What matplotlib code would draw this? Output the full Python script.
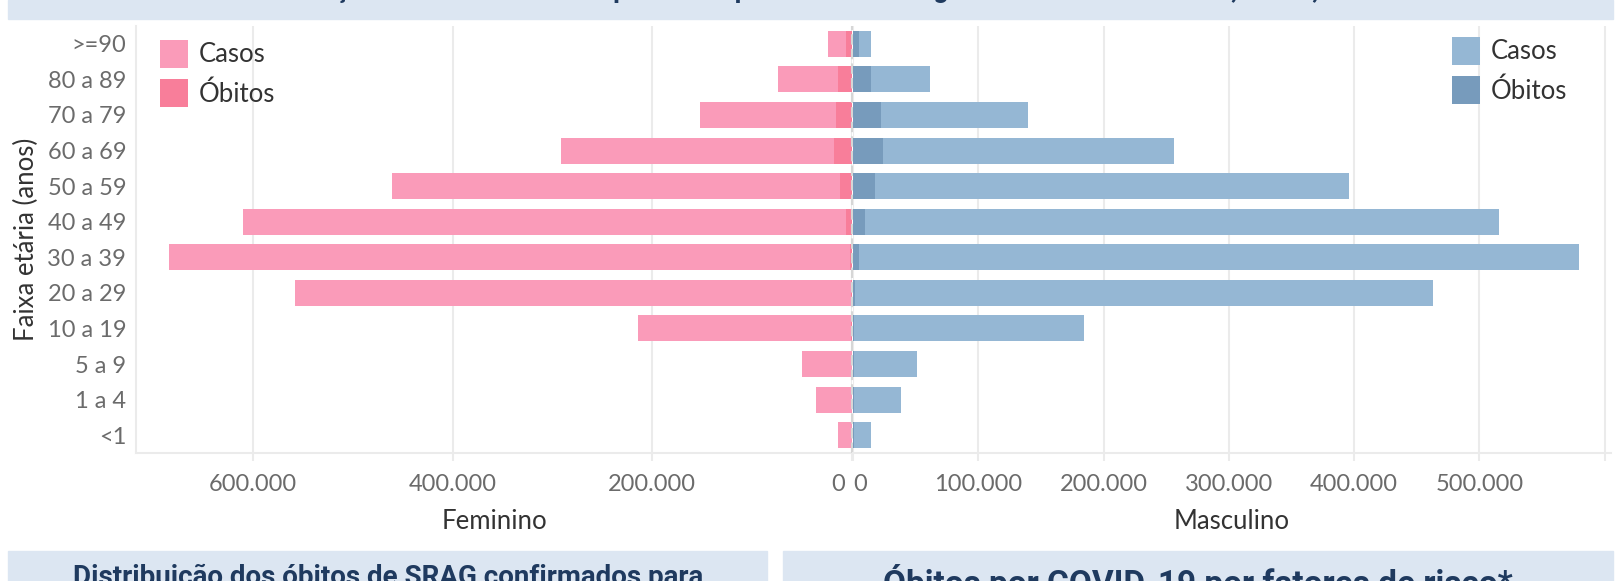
import matplotlib
matplotlib.use("Agg")
import matplotlib.pyplot as plt
from matplotlib.patches import Rectangle
from matplotlib.ticker import FuncFormatter

plt.rcParams['font.family'] = ['Lato', 'DejaVu Sans']

faixas = ['<1', '1 a 4', '5 a 9', '10 a 19', '20 a 29', '30 a 39', '40 a 49',
          '50 a 59', '60 a 69', '70 a 79', '80 a 89', '>=90']
fem_casos = [14000, 36000, 50000, 214000, 557500, 684000, 609500, 461000, 291000, 152000, 74500, 24100]
fem_obitos = [300, 200, 300, 800, 1500, 2000, 6000, 12000, 18000, 16000, 14000, 5700]
masc_casos = [14400, 38300, 51000, 184400, 462900, 579400, 515600, 396000, 256000, 140000, 61700, 14400]
masc_obitos = [1000, 1000, 1000, 1000, 1600, 4800, 9600, 17500, 23900, 22300, 14400, 4800]

fem_ticks = [0, 200000, 400000, 600000]
masc_ticks = [0, 100000, 200000, 300000, 400000, 500000, 600000]

ROSA_CASOS = '#fa9bb9'
ROSA_OBITOS = '#f87e9a'
AZUL_CASOS = '#95b7d4'
AZUL_OBITOS = '#779bbc'
GRADE = '#ebebeb'
TXT_TICK = '#6b6b6b'
TXT = '#333333'
FAIXA = '#dce6f2'
NAVY = '#1f3a5f'

W, H = 1619, 581
fig = plt.figure(figsize=(W / 100, H / 100), dpi=100)


def fx(px):
    return px / W


def fy(py):
    return 1 - py / H


# faixas de titulo (cortadas no recorte)
fig.patches.append(Rectangle((fx(8), fy(19)), fx(1605), 19 / H, transform=fig.transFigure,
                             color=FAIXA, zorder=0))
fig.patches.append(Rectangle((fx(8), 0), fx(759), fy(551), transform=fig.transFigure,
                             color=FAIXA, zorder=0))
fig.patches.append(Rectangle((fx(783), 0), fx(830), fy(551), transform=fig.transFigure,
                             color=FAIXA, zorder=0))
fig.text(fx(810), 1 + 2 / H, 'Distribuição dos casos e óbitos por SRAG por COVID-19 segundo faixa etária e sexo, Brasil, 2020',
         ha='center', va='baseline', fontsize=19, fontweight='bold', color=NAVY, family='Roboto')
fig.text(fx(388), -4 / H, 'Distribuição dos óbitos de SRAG confirmados para',
         ha='center', va='baseline', fontsize=20, fontweight='bold', color=NAVY, family='Roboto')
fig.text(fx(1198), -13 / H, 'Óbitos por COVID-19 por fatores de risco*',
         ha='center', va='baseline', fontsize=24, fontweight='bold', color=NAVY, family='Roboto')

top, bot = 26, 453
ax_f = fig.add_axes([fx(136), fy(bot), fx(852 - 136), (bot - top) / H])
ax_m = fig.add_axes([fx(853), fy(bot), fx(1611 - 853), (bot - top) / H])

y = list(range(len(faixas)))
h = 0.73

ax_f.barh(y, fem_casos, height=h, color=ROSA_CASOS, zorder=2, label='Casos')
ax_f.barh(y, fem_obitos, height=h, color=ROSA_OBITOS, zorder=3, label='Óbitos')
ax_m.barh(y, masc_casos, height=h, color=AZUL_CASOS, zorder=2, label='Casos')
ax_m.barh(y, masc_obitos, height=h, color=AZUL_OBITOS, zorder=3, label='Óbitos')


def milhar(v, p):
    # o 0 vai a parte, logo abaixo
    if v == 0:
        return ''
    return '{:,.0f}'.format(v).replace(',', '.')


for ax, ticks, lim, nome in [(ax_f, fem_ticks, (717000, 0), 'Feminino'),
                             (ax_m, masc_ticks, (0, 605000), 'Masculino')]:
    ax.set_xlim(*lim)
    ax.set_ylim(-0.5, len(faixas) - 0.5)
    ax.set_xticks(ticks)
    ax.xaxis.set_major_formatter(FuncFormatter(milhar))
    ax.grid(axis='x', color=GRADE, lw=1.5, zorder=0)
    ax.tick_params(axis='x', length=6, width=1.5, color=GRADE, pad=9,
                   labelsize=17, labelcolor=TXT_TICK)
    for s in ['top', 'right', 'left']:
        ax.spines[s].set_visible(False)
    ax.spines['bottom'].set_color(GRADE)
    ax.spines['bottom'].set_linewidth(1.5)
    ax.set_xlabel(nome, fontsize=18.5, color=TXT, labelpad=10)

# 600.000 do lado masculino: so a linha de grade
ax_m.xaxis.get_major_ticks()[-1].label1.set_visible(False)

# os dois zeros, um de cada lado da linha central
ax_f.annotate('0', (1, 0), xycoords='axes fraction', xytext=(-5, -15), textcoords='offset points',
              ha='right', va='top', fontsize=17, color=TXT_TICK)
ax_m.annotate('0', (0, 0), xycoords='axes fraction', xytext=(0, -15), textcoords='offset points',
              ha='left', va='top', fontsize=17, color=TXT_TICK)

ax_f.spines['left'].set_visible(True)
ax_f.spines['left'].set_color(GRADE)
ax_f.spines['left'].set_linewidth(1.5)
ax_f.set_yticks(y)
ax_f.set_yticklabels(faixas)
ax_f.tick_params(axis='y', length=0, pad=7, labelsize=17, labelcolor=TXT_TICK)
ax_m.set_yticks([])
ax_f.set_ylabel('Faixa etária (anos)', fontsize=18.5, color=TXT, labelpad=6)

ax_f.axvline(0, color='#d6d6d6', lw=1.5, ls=(0, (5, 2)), zorder=4, clip_on=False)

leg_kw = dict(frameon=False, fontsize=18.5, handlelength=1.11, handleheight=1.28,
              handletextpad=0.4, labelspacing=0.45, borderpad=0, labelcolor=TXT)
ax_f.legend(loc='upper left', bbox_to_anchor=(fx(147), fy(27)), bbox_transform=fig.transFigure, **leg_kw)
ax_m.legend(loc='upper left', bbox_to_anchor=(fx(1439), fy(24)), bbox_transform=fig.transFigure, **leg_kw)

fig.savefig('out.png', dpi=100)
